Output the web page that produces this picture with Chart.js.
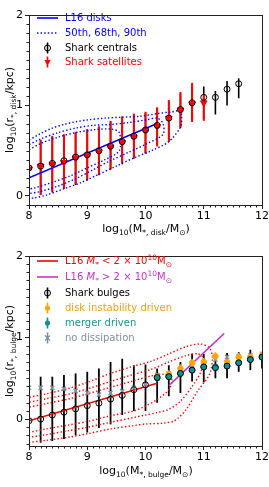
<!DOCTYPE html>
<html>
<head>
<meta charset="utf-8">
<script src="https://cdn.jsdelivr.net/npm/chart.js@4.4.1/dist/chart.umd.min.js"></script>
<style>
  body { margin: 0; background: #fff; }
  #wrap { position: relative; width: 269px; height: 487px; font-family: 'DejaVu Sans', sans-serif; overflow: hidden; }
  canvas { position: absolute; left: 0; }
  .t { position: absolute; font-size: 10px; white-space: nowrap; line-height: 12px; transform: translateY(-50%); }
  .ax { position: absolute; font-size: 11px; white-space: nowrap; line-height: 13px; transform: translate(-50%, -50%); }
  .ay { position: absolute; font-size: 11px; white-space: nowrap; line-height: 13px; transform: translate(-50%, -50%) rotate(-90deg); }
  sub, sup { font-size: 7.5px; line-height: 0; }
</style>
</head>
<body>
<div id="wrap">
  <canvas id="diskChart" width="269" height="243" style="top:0"></canvas>
  <canvas id="bulgeChart" width="269" height="244" style="top:243px"></canvas>

  <div class="t" style="left:65px;top:18px;color:#0000ff">L16 disks</div>
  <div class="t" style="left:65px;top:33px;color:#0000ff">50th, 68th, 90th</div>
  <div class="t" style="left:65px;top:48px;color:#000">Shark centrals</div>
  <div class="t" style="left:65px;top:62px;color:#ff0000">Shark satellites</div>

  <div class="t" style="left:65px;top:261px;color:#ff0000">L16 <i>M</i><sub>*</sub> &lt; 2 × 10<sup>10</sup>M<sub>⊙</sub></div>
  <div class="t" style="left:65px;top:277px;color:#c733c7">L16 <i>M</i><sub>*</sub> &gt; 2 × 10<sup>10</sup>M<sub>⊙</sub></div>
  <div class="t" style="left:65px;top:293px;color:#000">Shark bulges</div>
  <div class="t" style="left:65px;top:308px;color:#f2a20c">disk instability driven</div>
  <div class="t" style="left:65px;top:323px;color:#1a9690">merger driven</div>
  <div class="t" style="left:65px;top:338px;color:#7f8fa3">no dissipation</div>

  <div class="ax" style="left:146px;top:228px">log<sub>10</sub>(M<sub>*, disk</sub>/M<sub>⊙</sub>)</div>
  <div class="ay" style="left:9px;top:110px">log<sub>10</sub>(r<sub>*, disk</sub>/kpc)</div>
  <div class="ax" style="left:146px;top:470px">log<sub>10</sub>(M<sub>*, bulge</sub>/M<sub>⊙</sub>)</div>
  <div class="ay" style="left:9px;top:351px">log<sub>10</sub>(r<sub>*, bulge</sub>/kpc)</div>
</div>

<script>
// ---- top panel: disks ----
const xTicks = [8, 9, 10, 11, 12];
const yTicks = [0, 1, 2];

const diskMass = [8.0, 8.2, 8.4, 8.6, 8.8, 9.0, 9.2, 9.4, 9.6, 9.8, 10.0, 10.2, 10.4, 10.6, 10.8, 11.0, 11.2, 11.4, 11.6];
const centralSize = [0.31, 0.33, 0.36, 0.39, 0.43, 0.455, 0.50, 0.55, 0.60, 0.66, 0.73, 0.78, 0.86, 0.955, 1.03, 1.09, 1.09, 1.18, 1.24];
const centralLo = [0.0, 0.01, 0.04, 0.08, 0.12, 0.17, 0.23, 0.29, 0.35, 0.41, 0.47, 0.55, 0.60, 0.75, 0.82, 0.85, 0.90, 1.00, 1.08];
const centralHi = [0.58, 0.62, 0.66, 0.68, 0.70, 0.73, 0.76, 0.82, 0.87, 0.90, 0.92, 0.97, 1.05, 1.13, 1.22, 1.21, 1.16, 1.27, 1.30];

const satMass = [8.0, 8.2, 8.4, 8.6, 8.8, 9.0, 9.2, 9.4, 9.6, 9.8, 10.0, 10.2, 10.4, 10.6, 10.8, 11.0];
const satSize = [0.30, 0.33, 0.35, 0.37, 0.42, 0.45, 0.49, 0.54, 0.59, 0.65, 0.72, 0.77, 0.86, 0.95, 1.02, 1.03];
const satLo = [-0.02, 0.01, 0.05, 0.08, 0.13, 0.18, 0.24, 0.30, 0.37, 0.42, 0.47, 0.55, 0.60, 0.76, 0.82, 0.83];
const satHi = [0.58, 0.62, 0.66, 0.68, 0.71, 0.74, 0.77, 0.83, 0.88, 0.91, 0.93, 0.98, 1.06, 1.15, 1.25, 1.12];

const l16DiskMass = [8.0, 10.2];
const l16DiskSize = [0.20, 0.80];

// L16 percentile contours (closed loops)
const d90x = [7.95, 8.2, 8.4, 8.6, 8.8, 9.0, 9.3, 9.6, 9.9, 10.2, 10.45, 10.6, 10.62, 10.6, 10.4, 10.1, 9.8, 9.5, 9.2, 8.9, 8.6, 8.3, 8.1, 7.95];
const d90y = [0.60, 0.69, 0.75, 0.79, 0.82, 0.84, 0.86, 0.87, 0.88, 0.91, 0.93, 0.94, 0.86, 0.76, 0.60, 0.50, 0.42, 0.33, 0.24, 0.15, 0.08, 0.01, -0.02, -0.03];
const d68x = [7.95, 8.2, 8.5, 8.8, 9.1, 9.4, 9.7, 10.0, 10.2, 10.3, 10.3, 10.0, 9.7, 9.4, 9.1, 8.8, 8.5, 8.2, 7.95];
const d68y = [0.55, 0.63, 0.70, 0.75, 0.78, 0.79, 0.81, 0.84, 0.86, 0.80, 0.68, 0.57, 0.48, 0.39, 0.29, 0.19, 0.11, 0.05, 0.02];
const d50x = [7.95, 8.2, 8.5, 8.8, 9.1, 9.4, 9.55, 9.55, 9.3, 9.0, 8.7, 8.4, 8.1, 7.95];
const d50y = [0.49, 0.58, 0.65, 0.70, 0.73, 0.74, 0.70, 0.50, 0.40, 0.31, 0.22, 0.15, 0.09, 0.07];

// ---- bottom panel: bulges ----
const bulgeMass = [8.0, 8.2, 8.4, 8.6, 8.8, 9.0, 9.2, 9.4, 9.6, 9.8, 10.0, 10.2, 10.4, 10.6, 10.8, 11.0, 11.2, 11.4, 11.6, 11.8, 12.0];
const bulgeSize = [-0.02, 0.0, 0.05, 0.085, 0.125, 0.165, 0.195, 0.245, 0.29, 0.36, 0.42, 0.51, 0.52, 0.56, 0.60, 0.64, 0.63, 0.65, 0.69, 0.73, 0.76];
const bulgeLo = [-0.30, -0.29, -0.27, -0.245, -0.20, -0.165, -0.11, -0.065, 0.05, 0.10, 0.10, 0.20, 0.28, 0.32, 0.46, 0.45, 0.50, 0.50, 0.58, 0.60, 0.62];
const bulgeHi = [0.50, 0.52, 0.52, 0.54, 0.56, 0.58, 0.62, 0.70, 0.74, 0.66, 0.67, 0.62, 0.66, 0.70, 0.80, 0.80, 0.79, 0.81, 0.82, 0.85, 0.80];

const diMass = [10.2, 10.4, 10.6, 10.8, 11.0, 11.2, 11.4, 11.6, 11.8, 12.0];
const diSize = [0.52, 0.55, 0.62, 0.69, 0.70, 0.77, 0.70, 0.76, 0.76, 0.78];
const diLo = [0.48, 0.50, 0.57, 0.64, 0.65, 0.72, 0.66, 0.71, 0.72, 0.74];
const diHi = [0.56, 0.60, 0.67, 0.74, 0.75, 0.82, 0.74, 0.81, 0.80, 0.82];

const mergMass = [10.2, 10.4, 10.6, 10.8, 11.0, 11.2, 11.4, 11.6, 11.8, 12.0];
const mergSize = [0.50, 0.52, 0.56, 0.60, 0.64, 0.64, 0.65, 0.69, 0.73, 0.76];
const mergLo = [0.47, 0.49, 0.53, 0.57, 0.61, 0.61, 0.62, 0.66, 0.70, 0.73];
const mergHi = [0.53, 0.55, 0.59, 0.63, 0.67, 0.67, 0.68, 0.72, 0.76, 0.79];

const noDisMass = [8.0, 8.2, 8.4, 8.6, 8.8, 9.0, 9.2, 9.4, 9.6, 9.8, 10.0, 10.2, 10.4, 10.6, 10.8, 11.0, 11.2, 11.4, 11.6, 11.8, 12.0];
const noDisSize = [0.385, 0.385, 0.385, 0.37, 0.345, 0.32, 0.30, 0.32, 0.34, 0.385, 0.42, 0.54, 0.56, 0.60, 0.66, 0.70, 0.73, 0.76, 0.77, 0.78, 0.80];
const noDisLo = [0.36, 0.36, 0.36, 0.345, 0.32, 0.295, 0.275, 0.295, 0.315, 0.36, 0.395, 0.515, 0.535, 0.575, 0.635, 0.675, 0.705, 0.735, 0.745, 0.755, 0.775];
const noDisHi = [0.41, 0.41, 0.41, 0.395, 0.37, 0.345, 0.325, 0.345, 0.365, 0.41, 0.445, 0.565, 0.585, 0.625, 0.685, 0.725, 0.755, 0.785, 0.795, 0.805, 0.825];

const l16LowMass = [8.0, 10.2];
const l16LowSize = [-0.02, 0.44];
const l16HighMass = [10.4, 11.35];
const l16HighSize = [0.41, 1.05];

const b90x = [7.95, 8.3, 8.7, 9.0, 9.4, 9.8, 10.1, 10.4, 10.7, 10.95, 11.1, 11.15, 11.1, 10.9, 10.7, 10.5, 10.3, 10.0, 9.8, 9.4, 9.0, 8.7, 8.3, 7.95];
const b90y = [0.26, 0.31, 0.38, 0.45, 0.56, 0.65, 0.71, 0.80, 0.89, 0.92, 0.87, 0.75, 0.55, 0.35, 0.12, -0.02, -0.05, -0.06, -0.08, -0.12, -0.18, -0.22, -0.26, -0.29];
const b68x = [7.95, 8.3, 8.7, 9.0, 9.4, 9.8, 10.1, 10.4, 10.7, 10.9, 11.0, 10.95, 10.8, 10.6, 10.4, 10.2, 10.0, 9.8, 9.4, 9.0, 8.7, 8.3, 7.95];
const b68y = [0.20, 0.25, 0.31, 0.37, 0.46, 0.55, 0.61, 0.70, 0.78, 0.80, 0.74, 0.58, 0.40, 0.22, 0.12, 0.08, 0.05, 0.02, -0.04, -0.10, -0.14, -0.19, -0.23];
const b50x = [7.95, 8.3, 8.7, 9.0, 9.4, 9.8, 10.1, 10.3, 10.45, 10.4, 10.2, 10.0, 9.8, 9.4, 9.0, 8.7, 8.3, 7.95];
const b50y = [0.14, 0.19, 0.25, 0.31, 0.39, 0.47, 0.53, 0.55, 0.49, 0.36, 0.24, 0.16, 0.10, 0.04, -0.03, -0.07, -0.12, -0.17];

const BLUE = '#0000ff', RED = '#ff0000', MAG = '#c733c7', ORANGE = '#ffa500', TEAL = '#10908c', GREY = '#7f8fa3';

Chart.defaults.font.family = "'DejaVu Sans', sans-serif";
Chart.defaults.font.size = 11;
Chart.defaults.color = '#000';

const pts = (xs, ys) => xs.map((x, i) => ({ x: x, y: ys[i] }));

function lineSet(xs, ys, color, dotted, order) {
  return {
    data: pts(xs, ys), showLine: true, borderColor: color,
    borderWidth: dotted ? 1.4 : 1.6, borderDash: dotted ? [1.4, 2.2] : [],
    pointRadius: 0, tension: dotted ? 0.3 : 0, fill: false, order: order
  };
}

function pointSet(xs, ys, opts) {
  return Object.assign({ data: pts(xs, ys), showLine: false, pointRadius: 3, borderWidth: 1 }, opts);
}

// error bars drawn through the chart scales, before any dataset
function errorBars(sets) {
  return {
    id: 'errorBars',
    beforeDatasetsDraw(chart) {
      const { ctx, chartArea: a, scales: { x, y } } = chart;
      ctx.save();
      ctx.beginPath();
      ctx.rect(a.left, a.top, a.right - a.left, a.bottom - a.top);
      ctx.clip();
      sets.forEach(s => {
        ctx.strokeStyle = s.color;
        ctx.lineWidth = s.width;
        s.xs.forEach((m, i) => {
          const px = x.getPixelForValue(m);
          ctx.beginPath();
          ctx.moveTo(px, y.getPixelForValue(s.lo[i]));
          ctx.lineTo(px, y.getPixelForValue(s.hi[i]));
          ctx.stroke();
        });
      });
      ctx.restore();
    }
  };
}

function drawMarker(ctx, kind, cx, cy, color) {
  ctx.beginPath();
  if (kind === 'open') {
    ctx.arc(cx, cy, 3, 0, Math.PI * 2);
    ctx.strokeStyle = '#000'; ctx.lineWidth = 1; ctx.stroke();
  } else if (kind === 'dot') {
    ctx.arc(cx, cy, 2.6, 0, Math.PI * 2);
    ctx.fillStyle = color; ctx.fill();
  } else if (kind === 'tri') {
    ctx.moveTo(cx - 3.2, cy - 2); ctx.lineTo(cx + 3.2, cy - 2); ctx.lineTo(cx, cy + 3.5); ctx.closePath();
    ctx.fillStyle = color; ctx.fill();
  } else if (kind === 'x') {
    ctx.moveTo(cx - 2.5, cy - 2.5); ctx.lineTo(cx + 2.5, cy + 2.5);
    ctx.moveTo(cx + 2.5, cy - 2.5); ctx.lineTo(cx - 2.5, cy + 2.5);
    ctx.strokeStyle = color; ctx.lineWidth = 1.2; ctx.stroke();
  }
}

// frame, minor ticks and legend handles
function decorations(handles) {
  return {
    id: 'decorations',
    afterDraw(chart) {
      const { ctx, chartArea: a, scales: { x, y } } = chart;
      ctx.save();
      ctx.strokeStyle = '#222';
      ctx.lineWidth = 1;
      ctx.strokeRect(a.left + 0.5, a.top + 0.5, a.right - a.left, a.bottom - a.top);
      ctx.beginPath();
      for (let k = Math.ceil(x.min * 10); k <= Math.floor(x.max * 10 + 1e-6); k++) {
        if (k % 10 === 0) continue;
        const px = Math.round(x.getPixelForValue(k / 10)) + 0.5;
        ctx.moveTo(px, a.bottom); ctx.lineTo(px, a.bottom + 2.5);
      }
      for (let k = Math.ceil(y.min * 10 - 1e-6); k <= Math.floor(y.max * 10 + 1e-6); k++) {
        if (k % 10 === 0) continue;
        const py = Math.round(y.getPixelForValue(k / 10)) + 0.5;
        ctx.moveTo(a.left, py); ctx.lineTo(a.left - 2.5, py);
      }
      ctx.stroke();

      handles.forEach(h => {
        if (h.kind === 'line' || h.kind === 'dotted') {
          ctx.beginPath();
          ctx.setLineDash(h.kind === 'dotted' ? [1.4, 2.2] : []);
          ctx.strokeStyle = h.color; ctx.lineWidth = 1.6;
          ctx.moveTo(37, h.y); ctx.lineTo(58, h.y); ctx.stroke();
          ctx.setLineDash([]);
        } else {
          ctx.beginPath();
          ctx.strokeStyle = h.bar; ctx.lineWidth = 1.6;
          ctx.moveTo(47.5, h.y - 5.5); ctx.lineTo(47.5, h.y + 5.5); ctx.stroke();
          if (h.fill) drawMarker(ctx, h.fill, 47.5, h.y, h.color);
          if (h.edge) drawMarker(ctx, 'open', 47.5, h.y);
        }
      });
      ctx.restore();
    }
  };
}

function scales(yMin, yMax, xHeight) {
  return {
    x: {
      type: 'linear', min: 8, max: 12,
      afterBuildTicks: s => { s.ticks = xTicks.map(v => ({ value: v })); },
      afterFit: s => { s.height = xHeight; s.paddingLeft = 0; s.paddingRight = 0; },
      ticks: { padding: 1, maxRotation: 0, callback: v => String(v) },
      grid: { drawOnChartArea: false, tickLength: 4, color: '#222' },
      border: { color: '#222' }
    },
    y: {
      type: 'linear', min: yMin, max: yMax,
      afterBuildTicks: s => { s.ticks = yTicks.map(v => ({ value: v })); },
      afterFit: s => { s.width = 29; s.paddingTop = 0; s.paddingBottom = 0; },
      ticks: { padding: 2, callback: v => String(v) },
      grid: { drawOnChartArea: false, tickLength: 4, color: '#222' },
      border: { color: '#222' }
    }
  };
}

function baseOptions(yMin, yMax, xHeight, top) {
  return {
    responsive: false, animation: false, devicePixelRatio: 1, events: [],
    layout: { padding: { left: 0, right: 7, top: top, bottom: 0 } },
    plugins: { legend: { display: false }, tooltip: { enabled: false } },
    scales: scales(yMin, yMax, xHeight)
  };
}

new Chart(document.getElementById('diskChart'), {
  type: 'scatter',
  data: {
    datasets: [
      pointSet(diskMass, centralSize, { backgroundColor: 'rgba(0,0,0,0)', borderColor: '#000', order: 1 }),
      pointSet(satMass, satSize, { pointStyle: 'triangle', rotation: 180, pointRadius: 3.8, backgroundColor: RED, borderColor: RED, order: 2 }),
      lineSet(l16DiskMass, l16DiskSize, BLUE, false, 3),
      lineSet(d50x, d50y, BLUE, true, 4),
      lineSet(d68x, d68y, BLUE, true, 5),
      lineSet(d90x, d90y, BLUE, true, 6)
    ]
  },
  options: baseOptions(-0.1, 2, 38, 15),
  plugins: [
    errorBars([
      { xs: diskMass, lo: centralLo, hi: centralHi, color: '#000', width: 1.6 },
      { xs: satMass, lo: satLo, hi: satHi, color: RED, width: 2 }
    ]),
    decorations([
      { kind: 'line', y: 18, color: BLUE },
      { kind: 'dotted', y: 33, color: BLUE },
      { kind: 'err', y: 48, bar: '#000', edge: true },
      { kind: 'err', y: 62, bar: RED, fill: 'tri', color: RED }
    ])
  ]
});

new Chart(document.getElementById('bulgeChart'), {
  type: 'scatter',
  data: {
    datasets: [
      pointSet(bulgeMass, bulgeSize, { backgroundColor: 'rgba(0,0,0,0)', borderColor: '#000', order: 1 }),
      pointSet(mergMass, mergSize, { backgroundColor: TEAL, borderColor: TEAL, pointRadius: 2.8, order: 2 }),
      pointSet(diMass, diSize, { backgroundColor: ORANGE, borderColor: ORANGE, pointRadius: 2.8, order: 3 }),
      pointSet(noDisMass, noDisSize, { pointStyle: 'crossRot', pointRadius: 3, borderWidth: 1.2, borderColor: GREY, order: 4 }),
      lineSet(l16HighMass, l16HighSize, MAG, false, 5),
      lineSet(l16LowMass, l16LowSize, RED, false, 6),
      lineSet(b50x, b50y, RED, true, 7),
      lineSet(b68x, b68y, RED, true, 8),
      lineSet(b90x, b90y, RED, true, 9)
    ]
  },
  options: baseOptions(-0.33, 2, 41, 13),
  plugins: [
    errorBars([
      { xs: bulgeMass, lo: bulgeLo, hi: bulgeHi, color: '#000', width: 1.8 },
      { xs: diMass, lo: diLo, hi: diHi, color: ORANGE, width: 1.4 },
      { xs: mergMass, lo: mergLo, hi: mergHi, color: TEAL, width: 1.4 },
      { xs: noDisMass, lo: noDisLo, hi: noDisHi, color: GREY, width: 1.2 }
    ]),
    decorations([
      { kind: 'line', y: 18, color: RED },
      { kind: 'line', y: 34, color: MAG },
      { kind: 'err', y: 50, bar: '#000', edge: true },
      { kind: 'err', y: 65, bar: ORANGE, fill: 'dot', color: ORANGE },
      { kind: 'err', y: 80, bar: TEAL, fill: 'dot', color: TEAL },
      { kind: 'err', y: 95, bar: GREY, fill: 'x', color: GREY }
    ])
  ]
});
</script>
</body>
</html>
